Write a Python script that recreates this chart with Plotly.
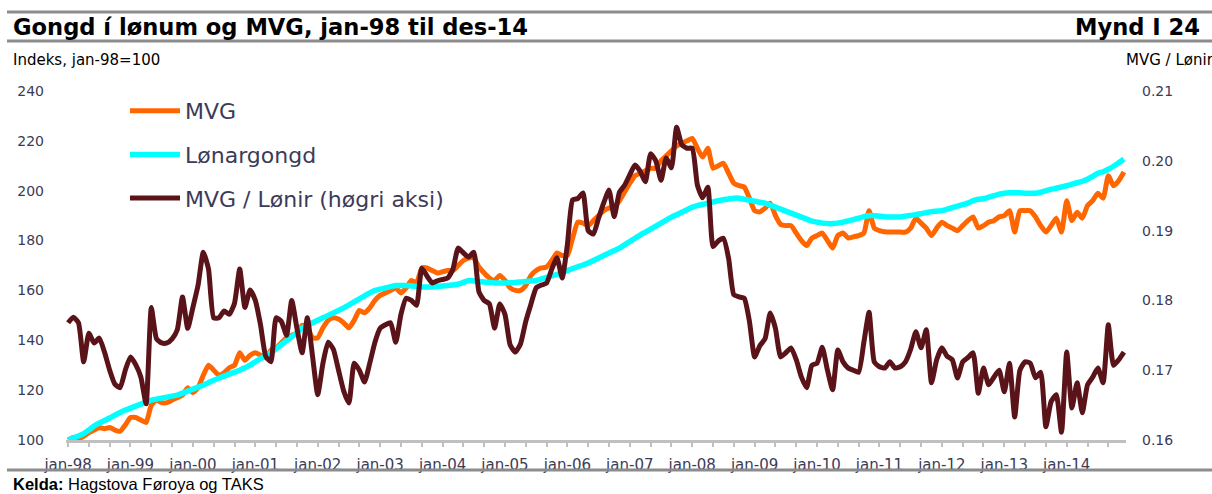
import plotly.graph_objects as go

# ---------------- data ----------------
month_names = ["jan", "feb", "mar", "apr", "mai", "jun", "jul", "aug", "sep", "okt", "nov", "des"]
years = ["98", "99", "00", "01", "02", "03", "04", "05", "06", "07", "08", "09", "10", "11", "12", "13", "14"]
months = [f"{m}-{y}" for y in years for m in month_names]

mvg = [
    100, 101, 100.5, 101.5, 103, 104, 105, 104.5, 105, 104, 103.5, 106,
    109, 109, 108, 107, 114, 116, 115, 115, 116, 117, 118, 121,
    119, 121, 126, 130, 128, 126, 127, 129, 130, 135, 132, 134,
    135, 134, 133, 136, 137, 139, 141, 142, 143, 146, 145, 141,
    141, 145, 148, 149, 148.5, 147, 145, 148, 152, 151, 153, 156,
    158, 159, 160, 161, 159, 161, 164, 163, 169, 169, 168, 167,
    167.5, 168, 168, 170, 172, 173, 173, 169.4, 167, 165, 164, 166,
    164, 161, 160, 160, 162, 166, 168, 169, 169.4, 172, 175, 174,
    174, 181, 187.4, 187, 186, 188, 190, 192, 193, 193.5, 196, 199.5,
    203, 206, 207, 208, 209, 209, 212, 214, 216, 218, 219, 220,
    221, 217, 213.5, 217, 209, 210, 211, 207, 203, 202, 201.5, 197,
    192, 191.5, 193, 195, 190, 186.5, 186, 186, 183, 180, 178, 181,
    182, 183, 180, 177, 182, 183, 181, 181.5, 182, 183, 192, 185,
    184, 183.5, 183.4, 183.4, 183.4, 183.4, 185, 189, 187, 185, 182, 185,
    187.4, 186, 185, 184, 186, 188, 189.5, 185, 186, 187.4, 188, 189.5,
    190, 192, 183.4, 192, 192, 192, 189.5, 186, 183.4, 186, 189, 183.4,
    196, 188, 191.4, 189, 194, 196, 199, 197, 206, 202, 204, 207.5,
]

lonargongd = [
    100, 100.8, 101.6, 102.6, 104, 105.6, 106.8, 107.8, 108.8, 110, 111, 112,
    112.8, 113.6, 114.4, 115.2, 116, 116.4, 116.8, 117.2, 117.6, 118, 118.8, 119.6,
    120.4, 121.2, 122, 123, 124, 124.8, 125.6, 126.4, 127.2, 128, 129, 130,
    131.4, 132.6, 133.8, 135, 136.6, 138.2, 139.8, 141.4, 143, 145, 146, 147,
    148, 149, 150, 151, 152, 153, 154.2, 155.4, 156.6, 157.8, 159, 160,
    160.5, 161, 161.5, 162, 162, 162, 161.8, 161.6, 161.4, 161.4, 161.4, 161.6,
    161.8, 162, 162.2, 162.5, 163.2, 164, 163.8, 163.6, 163.4, 163.2, 163, 163,
    163, 163.1, 163.2, 163.4, 163.6, 163.8, 164, 164.6, 165.2, 165.8, 166.4, 167.2,
    168, 168.8, 169.5, 170.2, 171, 172, 173, 174, 175, 176, 177, 178.3,
    179.6, 180.9, 182.2, 183.4, 184.6, 185.8, 187, 188.2, 189.4, 190.4, 191.4, 192.4,
    193.4, 194, 194.5, 195, 195.5, 196, 196.4, 196.7, 197, 197, 196.6, 196.2,
    195.8, 195.4, 195, 194.2, 193.4, 192.6, 191.8, 191, 190.2, 189.4, 188.6, 187.8,
    187.4, 187, 186.8, 186.8, 187, 187.4, 187.9, 188.4, 189, 189.6, 190, 190,
    189.8, 189.6, 189.5, 189.5, 189.5, 189.8, 190.1, 190.4, 190.8, 191.2, 191.6, 191.8,
    192, 192.6, 193.2, 193.8, 194.4, 195, 196, 196.6, 196.8, 197.4, 198, 198.6,
    199, 199.2, 199.2, 199.2, 199, 199, 199, 199.4, 200, 200.6, 201, 201.5,
    202, 202.6, 203.2, 203.8, 204.6, 205.8, 207, 207.6, 208.6, 209.8, 211.2, 212.7,
]

mvg_lonir = [
    0.1768, 0.1776, 0.1768, 0.1712, 0.1753, 0.1739, 0.1746, 0.1726, 0.1700, 0.1680, 0.1675, 0.1700,
    0.1719, 0.1708, 0.1690, 0.1652, 0.1790, 0.1745, 0.1739, 0.1739, 0.1745, 0.1758, 0.1805, 0.1760,
    0.1790, 0.1822, 0.1869, 0.1845, 0.1775, 0.1775, 0.1785, 0.1780, 0.1796, 0.1845, 0.1790, 0.1815,
    0.1800, 0.1765, 0.1720, 0.1712, 0.1775, 0.1770, 0.1750, 0.1800, 0.1760, 0.1725, 0.1775, 0.1720,
    0.1665, 0.1710, 0.1740, 0.1730, 0.1700, 0.1670, 0.1653, 0.1710, 0.1700, 0.1683, 0.1710, 0.1740,
    0.1760, 0.1765, 0.1768, 0.1740, 0.1780, 0.1803, 0.1800, 0.1793, 0.1846, 0.1835, 0.1825, 0.1828,
    0.1830, 0.1832, 0.1845, 0.1875, 0.1868, 0.1862, 0.1869, 0.1812, 0.1800, 0.1795, 0.1760, 0.1795,
    0.1780, 0.1736, 0.1726, 0.1738, 0.1770, 0.1795, 0.1818, 0.1822, 0.1825, 0.1845, 0.1861, 0.1832,
    0.1880, 0.1944, 0.1946, 0.1954, 0.1900, 0.1895, 0.1918, 0.1940, 0.1958, 0.1920, 0.1955, 0.1965,
    0.1980, 0.1994, 0.1985, 0.1970, 0.2010, 0.2000, 0.1972, 0.2004, 0.1990, 0.2048, 0.2023, 0.2018,
    0.2018, 0.1965, 0.1947, 0.1962, 0.1877, 0.1885, 0.1889, 0.1860, 0.1808, 0.1805, 0.1803, 0.1770,
    0.1719, 0.1735, 0.1745, 0.1782, 0.1760, 0.1719, 0.1725, 0.1732, 0.1715, 0.1690, 0.1675, 0.1707,
    0.1710, 0.1733, 0.1700, 0.1672, 0.1729, 0.1712, 0.1703, 0.1700, 0.1697, 0.1740, 0.1783, 0.1712,
    0.1705, 0.1703, 0.1712, 0.1703, 0.1705, 0.1712, 0.1730, 0.1755, 0.1732, 0.1758, 0.1682, 0.1715,
    0.1732, 0.1720, 0.1715, 0.1689, 0.1712, 0.1718, 0.1725, 0.1667, 0.1703, 0.1679, 0.1690, 0.1700,
    0.1669, 0.1710, 0.1633, 0.1700, 0.1712, 0.1710, 0.1689, 0.1697, 0.1619, 0.1655, 0.1665, 0.1611,
    0.1726, 0.1646, 0.1682, 0.1639, 0.1679, 0.1690, 0.1703, 0.1682, 0.1765, 0.1707, 0.1715, 0.1726,
]

left_ticks = [100, 120, 140, 160, 180, 200, 220, 240]
right_ticks = [0.16, 0.17, 0.18, 0.19, 0.20, 0.21]

# ---------------- layout helpers ----------------
W, H = 1212, 494
ML, MR, MT, MB = 66, 86, 91, 54
PW, PH = W - ML - MR, H - MT - MB


def px(x):
    return (x - ML) / PW


def py(y):
    return (H - MB - y) / PH


xi = list(range(len(months)))
label_idx = [i for i, m in enumerate(months) if m.startswith("jan-")]

TXT = "#3b3b58"
FONT = "DejaVu Sans"

fig = go.Figure()
fig.add_trace(go.Scatter(x=xi, y=mvg, name="MVG", mode="lines", legendgroup="a",
                         line=dict(color="#FF6600", width=5, shape="spline", smoothing=0.5)))
fig.add_trace(go.Scatter(x=xi, y=lonargongd, name="Lønargongd", mode="lines", legendgroup="b",
                         line=dict(color="#00FFFF", width=5.5, shape="spline", smoothing=0.5)))
fig.add_trace(go.Scatter(x=xi, y=mvg_lonir, name="MVG / Lønir (høgri aksi)", mode="lines",
                         legendgroup="c", yaxis="y2",
                         line=dict(color="#5A1419", width=5, shape="spline", smoothing=0.5)))

fig.update_layout(
    width=W, height=H,
    margin=dict(l=ML, r=MR, t=MT, b=MB),
    paper_bgcolor="white", plot_bgcolor="white",
    font=dict(family=FONT, size=14, color=TXT),
    xaxis=dict(
        range=[-0.4, len(months) - 1 + 0.4],
        tickvals=label_idx, ticktext=[months[i] for i in label_idx],
        showgrid=False, zeroline=False,
        showline=True, linecolor="#c0c0c0", linewidth=3,
        ticks="outside", ticklen=4, tickwidth=2, tickcolor="#c0c0c0",
        minor=dict(dtick=4, tick0=0, ticks="outside", ticklen=4, tickwidth=2, tickcolor="#c0c0c0"),
        tickfont=dict(family=FONT, size=15, color=TXT),
        ticklabelstandoff=5,
    ),
    yaxis=dict(
        range=[100, 240], tickvals=left_ticks,
        showgrid=False, zeroline=False, showline=False, ticks="",
        tickfont=dict(family=FONT, size=14, color=TXT),
        ticklabelstandoff=21,
    ),
    yaxis2=dict(
        range=[0.16, 0.21], tickvals=right_ticks, tickformat=".2f",
        overlaying="y", side="right",
        showgrid=False, zeroline=False, showline=False, ticks="",
        tickfont=dict(family=FONT, size=14, color=TXT),
        ticklabelstandoff=15,
    ),
    legend=dict(
        x=px(125), y=py(90), xanchor="left", yanchor="top",
        font=dict(family=FONT, size=22, color=TXT),
        bgcolor="rgba(0,0,0,0)", tracegroupgap=12,
        itemwidth=50,
    ),
    showlegend=True,
)

# frame lines (header / footer rules)
for yy in (12, 41, 470):
    fig.add_shape(type="line", xref="paper", yref="paper",
                  x0=px(7), x1=px(1212), y0=py(yy), y1=py(yy),
                  line=dict(color="#8c8c8c", width=3))

fig.add_annotation(text="<b>Gongd í lønum og MVG, jan-98 til des-14</b>",
                   xref="paper", yref="paper", x=px(11), y=py(27),
                   xanchor="left", yanchor="middle", showarrow=False,
                   font=dict(family=FONT, size=22.6, color="black"))
fig.add_annotation(text="<b>Mynd I 24</b>",
                   xref="paper", yref="paper", x=px(1202), y=py(27),
                   xanchor="right", yanchor="middle", showarrow=False,
                   font=dict(family=FONT, size=22.6, color="black"))
fig.add_annotation(text="Indeks, jan-98=100",
                   xref="paper", yref="paper", x=px(11), y=py(60),
                   xanchor="left", yanchor="middle", showarrow=False,
                   font=dict(family=FONT, size=15, color="black"))
fig.add_annotation(text="MVG / Lønir",
                   xref="paper", yref="paper", x=px(1124), y=py(60),
                   xanchor="left", yanchor="middle", showarrow=False,
                   font=dict(family=FONT, size=15, color="black"))
fig.add_annotation(text="<b>Kelda:</b> Hagstova Føroya og TAKS",
                   xref="paper", yref="paper", x=px(11), y=py(484),
                   xanchor="left", yanchor="middle", showarrow=False,
                   font=dict(family="Liberation Sans", size=16.5, color="black"))

fig.write_html("out.html",
               config={"displayModeBar": False},
               post_script="document.body.style.margin='0';document.body.style.overflow='hidden';")
